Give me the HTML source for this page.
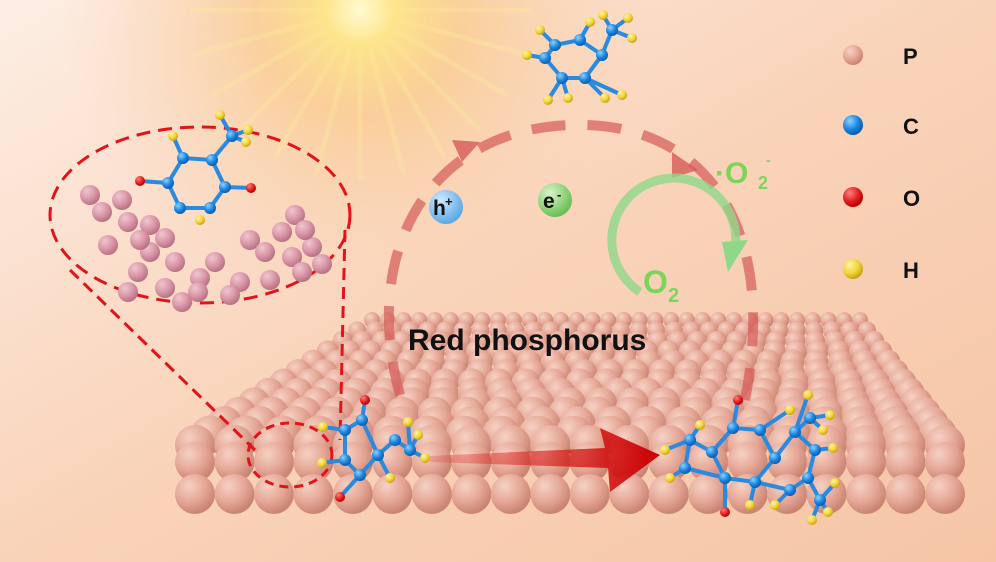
<!DOCTYPE html>
<html><head><meta charset="utf-8"><style>
html,body{margin:0;padding:0;width:996px;height:562px;overflow:hidden}
svg{display:block}
text{font-family:"Liberation Sans",Arial,sans-serif;font-weight:bold}
</style></head><body>
<svg id="s" width="996" height="562" viewBox="0 0 996 562" xmlns="http://www.w3.org/2000/svg">
<defs>
<linearGradient id="bg" x1="0" y1="0" x2="1" y2="1">
<stop offset="0" stop-color="#fdeee4"/><stop offset="0.5" stop-color="#f9d3b9"/><stop offset="1" stop-color="#f6c5a6"/>
</linearGradient>
<radialGradient id="sun" cx="360" cy="10" r="300" gradientUnits="userSpaceOnUse">
<stop offset="0" stop-color="#fffbd0"/><stop offset="0.12" stop-color="#fde48a"/><stop offset="0.35" stop-color="#f9c98a" stop-opacity="0.75"/><stop offset="1" stop-color="#f9d2b8" stop-opacity="0"/>
</radialGradient>
<radialGradient id="pb" cx="0.35" cy="0.3" r="0.7"><stop offset="0" stop-color="#f6d2c4"/><stop offset="0.6" stop-color="#e4a594"/><stop offset="1" stop-color="#c98473"/></radialGradient>
<radialGradient id="cb" cx="0.35" cy="0.3" r="0.7"><stop offset="0" stop-color="#8fd0ff"/><stop offset="0.6" stop-color="#1b86e0"/><stop offset="1" stop-color="#0a5fb0"/></radialGradient>
<radialGradient id="ob" cx="0.35" cy="0.3" r="0.7"><stop offset="0" stop-color="#ff8080"/><stop offset="0.6" stop-color="#e32020"/><stop offset="1" stop-color="#b00"/></radialGradient>
<radialGradient id="hb" cx="0.35" cy="0.3" r="0.7"><stop offset="0" stop-color="#fff4a0"/><stop offset="0.6" stop-color="#f2d43a"/><stop offset="1" stop-color="#c9a415"/></radialGradient>
<radialGradient id="mb" cx="0.35" cy="0.3" r="0.7"><stop offset="0" stop-color="#f0c6d0"/><stop offset="0.6" stop-color="#d995a6"/><stop offset="1" stop-color="#b87385"/></radialGradient>
<radialGradient id="hp" cx="0.35" cy="0.3" r="0.7"><stop offset="0" stop-color="#cfeaff"/><stop offset="1" stop-color="#5aa9e6"/></radialGradient>
<radialGradient id="ep" cx="0.35" cy="0.3" r="0.7"><stop offset="0" stop-color="#d9f5c8"/><stop offset="1" stop-color="#6bbf55"/></radialGradient>
<linearGradient id="ar" x1="0" x2="1"><stop offset="0" stop-color="#d22" stop-opacity="0.2"/><stop offset="1" stop-color="#c00"/></linearGradient>
</defs>
<rect width="996" height="562" fill="url(#bg)"/>
<rect width="996" height="562" fill="url(#sun)"/>
<g id="rays" opacity="0.35" stroke="#fde9a0" stroke-width="6"></g>
<g id="slab"></g>
<path d="M400 395 C360 250 430 130 570 125 C700 120 780 220 745 400" fill="none" stroke="#d65a58" stroke-opacity="0.7" stroke-width="10" stroke-dasharray="34 22"/>
<path d="M452 140 L480 142 L462 162 Z" fill="#d65a58" opacity="0.8"/>
<path d="M672 152 L698 170 L672 178 Z" fill="#d65a58" opacity="0.8"/>
<path d="M640 292 A62 62 0 1 1 735 250" fill="none" stroke="#8fd88a" stroke-opacity="0.8" stroke-width="9"/>
<path d="M722 242 L748 240 L728 272 Z" fill="#8fd88a"/>
<circle cx="446" cy="207" r="17" fill="url(#hp)"/>
<text x="433" y="215" font-size="21" fill="#111">h</text><text x="445" y="206" font-size="13" fill="#111">+</text>
<circle cx="555" cy="200" r="17" fill="url(#ep)"/>
<text x="543" y="208" font-size="21" fill="#111">e</text><text x="557" y="199" font-size="13" fill="#111">-</text>
<text x="715" y="183" font-size="30" fill="#7cd55a">·O</text><text x="758" y="189" font-size="18" fill="#7cd55a">2</text><text x="766" y="165" font-size="14" fill="#7cd55a">-</text>
<text x="643" y="293" font-size="32" fill="#7cd55a">O</text><text x="668" y="302" font-size="20" fill="#7cd55a">2</text>
<text x="408" y="350" font-size="30" fill="#111">Red phosphorus</text>
<path d="M430 456 L605 448 L600 428 L660 455 L610 492 L608 468 L430 462 Z" fill="url(#ar)"/>
<ellipse cx="200" cy="215" rx="150" ry="88" fill="none" stroke="#e0141a" stroke-width="3" stroke-dasharray="14 8"/>
<ellipse cx="290" cy="455" rx="42" ry="32" fill="none" stroke="#e0141a" stroke-width="3" stroke-dasharray="9 6"/>
<line x1="345" y1="230" x2="340" y2="440" stroke="#e0141a" stroke-width="3" stroke-dasharray="12 7"/>
<line x1="70" y1="270" x2="255" y2="450" stroke="#e0141a" stroke-width="3" stroke-dasharray="12 7"/>
<g id="mol"></g>
<circle cx="853" cy="55" r="10" fill="url(#pb)"/><text x="903" y="64" font-size="22" fill="#111">P</text>
<circle cx="853" cy="125" r="10" fill="url(#cb)"/><text x="903" y="134" font-size="22" fill="#111">C</text>
<circle cx="853" cy="197" r="10" fill="url(#ob)"/><text x="903" y="206" font-size="22" fill="#111">O</text>
<circle cx="853" cy="269" r="10" fill="url(#hb)"/><text x="903" y="278" font-size="22" fill="#111">H</text>
</svg>
<script>
var NS="http://www.w3.org/2000/svg";
function c(g,x,y,r,f){var e=document.createElementNS(NS,"circle");e.setAttribute("cx",x);e.setAttribute("cy",y);e.setAttribute("r",r);e.setAttribute("fill",f);g.appendChild(e);}
function l(g,a,b,col,w){var e=document.createElementNS(NS,"line");e.setAttribute("x1",a[0]);e.setAttribute("y1",a[1]);e.setAttribute("x2",b[0]);e.setAttribute("y2",b[1]);e.setAttribute("stroke",col);e.setAttribute("stroke-width",w);g.appendChild(e);}
var ry=document.getElementById("rays");
for(var a=0;a<360;a+=15){var r=a*Math.PI/180;l(ry,[360+40*Math.cos(r),10+40*Math.sin(r)],[360+170*Math.cos(r),10+170*Math.sin(r)],"#fde9a0",5);}
var s=document.getElementById("slab");
var rows=13;
for(var i=0;i<rows;i++){var t=i/(rows-1);var y=320+t*125;var xl=372+(195-372)*t,xr=860+(945-860)*t;var r=8+t*12;var n=Math.round((xr-xl)/(2*r*0.98));
for(var j=0;j<=n;j++)c(s,xl+(xr-xl)*j/n,y,r,"url(#pb)");}
for(var k=0;k<2;k++){var y=462+k*32,n=19;for(var j=0;j<=n;j++)c(s,195+(945-195)*j/n,y,20,"url(#pb)");}
var m=document.getElementById("mol");
function mol(atoms,bonds){bonds.forEach(function(b){l(m,atoms[b[0]],atoms[b[1]],"#2a8ae0",4)});atoms.forEach(function(a){c(m,a[0],a[1],a[3]||6,a[2])});}
var P=[[90,195],[102,212],[122,200],[128,222],[150,225],[165,238],[175,262],[150,252],[138,272],[200,278],[215,262],[240,282],[250,240],[265,252],[282,232],[292,257],[302,272],[312,247],[322,264],[295,215],[198,292],[182,302],[108,245],[128,292],[165,288],[140,240],[230,295],[270,280],[305,230]];
P.forEach(function(p){c(m,p[0],p[1],10,"url(#mb)")});
var C="url(#cb)",O="url(#ob)",H="url(#hb)";
mol([[183,158,C],[212,160,C],[225,187,C],[210,208,C],[180,208,C],[168,183,C],[140,181,O,5],[251,188,O,5],[173,136,H,5],[232,136,C],[220,115,H,5],[248,130,H,5],[246,142,H,5],[200,220,H,5]],[[0,1],[1,2],[2,3],[3,4],[4,5],[5,0],[5,6],[2,7],[0,8],[1,9],[9,10],[9,11],[9,12]]);
mol([[362,420,C],[378,455,C],[360,475,C],[345,460,C],[345,430,C],[365,400,O,5],[340,497,O,5],[395,440,C],[410,450,C],[408,422,H,5],[425,458,H,5],[418,435,H,5],[323,427,H,5],[322,463,H,5],[390,478,H,5]],[[0,4],[4,3],[3,2],[2,1],[1,0],[0,5],[2,6],[1,7],[7,8],[8,9],[8,10],[8,11],[4,12],[3,13],[1,14]]);
mol([[733,428,C],[712,452,C],[725,478,C],[755,482,C],[775,458,C],[760,430,C],[738,400,O,5],[725,512,O,5],[690,440,C],[685,468,C],[665,450,H,5],[670,478,H,5],[795,432,C],[815,450,C],[808,478,C],[790,490,C],[820,500,C],[810,418,C],[830,415,H,5],[823,430,H,5],[833,448,H,5],[808,395,H,5],[790,410,H,5],[835,483,H,5],[828,512,H,5],[812,520,H,5],[775,505,H,5],[750,505,H,5],[700,425,H,5]],[[0,1],[1,2],[2,3],[3,4],[4,5],[5,0],[0,6],[2,7],[1,8],[8,9],[9,2],[8,28],[8,10],[9,11],[4,12],[12,13],[13,14],[14,15],[15,3],[14,16],[12,17],[17,18],[17,19],[13,20],[12,21],[5,22],[16,23],[16,24],[16,25],[15,26],[3,27]]);
mol([[555,45,C],[580,40,C],[602,55,C],[585,78,C],[562,78,C],[545,58,C],[612,30,C],[628,18,H,5],[632,38,H,5],[603,15,H,5],[540,30,H,5],[527,55,H,5],[548,100,H,5],[568,98,H,5],[605,98,H,5],[622,95,H,5],[590,22,H,5]],[[0,1],[1,2],[2,3],[3,4],[4,5],[5,0],[2,6],[6,7],[6,8],[6,9],[0,10],[5,11],[4,12],[4,13],[3,14],[3,15],[1,16]]);
</script>
</body></html>
